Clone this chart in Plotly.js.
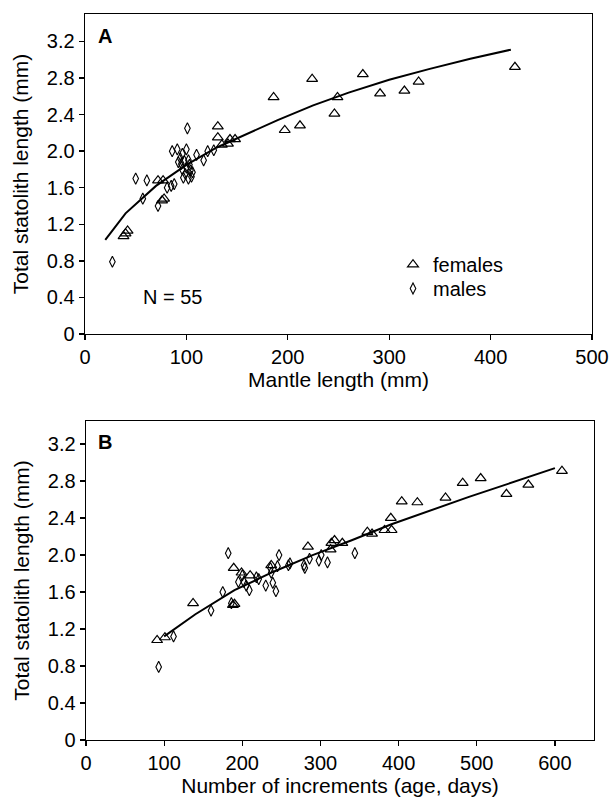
<!DOCTYPE html>
<html>
<head>
<meta charset="utf-8">
<script src="https://cdn.plot.ly/plotly-3.0.1.min.js"></script>
<style>html,body{margin:0;padding:0;background:#fff;}#chart{width:613px;height:797px;}</style>
</head>
<body>
<div id="chart"></div>
<script>
// Panel A: statolith length vs mantle length
const femalesA_ML = [38, 40, 42, 72, 77, 76, 78, 131, 131, 135, 141, 143, 148, 186, 197, 212, 224, 246, 249, 274, 291, 315, 329, 424];
const femalesA_TSL = [1.07, 1.10, 1.13, 1.68, 1.68, 1.46, 1.48, 2.27, 2.15, 2.07, 2.08, 2.13, 2.13, 2.59, 2.23, 2.28, 2.79, 2.41, 2.59, 2.84, 2.63, 2.66, 2.76, 2.92];
const malesA_ML = [27, 50, 57, 61, 72, 81, 85, 88, 86, 91, 101, 100, 96, 92, 95, 98, 102, 110, 117, 121, 127, 96, 100, 104, 106, 99, 97, 102, 105, 94, 103];
const malesA_TSL = [0.79, 1.70, 1.48, 1.68, 1.40, 1.60, 1.62, 1.64, 2.00, 2.02, 2.25, 2.02, 1.97, 1.88, 1.86, 1.89, 1.90, 1.96, 1.90, 2.00, 2.01, 1.80, 1.82, 1.79, 1.77, 1.75, 1.71, 1.70, 1.72, 1.92, 1.85];
const curveA_ML = [20, 40, 70, 100, 130, 160, 190, 225, 260, 300, 340, 380, 420];
const curveA_TSL = [1.03, 1.32, 1.62, 1.85, 2.04, 2.19, 2.34, 2.50, 2.64, 2.78, 2.90, 3.01, 3.11];

// Panel B: statolith length vs number of increments
const femalesB_age = [91, 101, 137, 189, 188, 190, 199, 210, 237, 284, 313, 314, 318, 328, 360, 366, 382, 391, 390, 404, 424, 460, 482, 505, 538, 566, 609];
const femalesB_TSL = [1.08, 1.11, 1.48, 1.86, 1.46, 1.47, 1.81, 1.78, 1.89, 2.09, 2.06, 2.13, 2.16, 2.13, 2.25, 2.23, 2.27, 2.27, 2.40, 2.58, 2.57, 2.62, 2.78, 2.83, 2.66, 2.76, 2.91];
const malesB_age = [93, 112, 160, 175, 182, 186, 195, 202, 205, 209, 218, 221, 230, 237, 239, 243, 245, 247, 259, 261, 279, 280, 286, 298, 301, 309, 344, 200, 236];
const malesB_TSL = [0.79, 1.12, 1.40, 1.60, 2.02, 1.48, 1.71, 1.71, 1.67, 1.62, 1.76, 1.74, 1.67, 1.81, 1.70, 1.61, 1.88, 2.00, 1.89, 1.91, 1.89, 1.86, 1.96, 1.94, 2.00, 1.92, 2.02, 1.78, 1.86];
const curveB_age = [100, 140, 190, 240, 290, 340, 390, 440, 490, 540, 600];
const curveB_TSL = [1.12, 1.36, 1.62, 1.82, 2.00, 2.16, 2.33, 2.48, 2.63, 2.77, 2.94];

// Tick labels
const yTickVals = [0, 0.4, 0.8, 1.2, 1.6, 2.0, 2.4, 2.8, 3.2];
const yTickText = ["0", "0.4", "0.8", "1.2", "1.6", "2.0", "2.4", "2.8", "3.2"];
const xTickValsA = [0, 100, 200, 300, 400, 500];
const xTickValsB = [0, 100, 200, 300, 400, 500, 600];

const FONT = "Liberation Sans, Arial, Helvetica, sans-serif";
const triMarker = {symbol: "triangle-up-open", size: 9.5, color: "#000", line: {width: 1.2, color: "#000"}};
const diaMarker = {symbol: "diamond-tall-open", size: 8, color: "#000", line: {width: 1.1, color: "#000"}};

const traces = [
  {x: curveA_ML, y: curveA_TSL, type: "scatter", mode: "lines", line: {color: "#000", width: 2}, showlegend: false, xaxis: "x", yaxis: "y", hoverinfo: "skip"},
  {x: femalesA_ML, y: femalesA_TSL, type: "scatter", mode: "markers", name: "females", marker: triMarker, legend: "legend", xaxis: "x", yaxis: "y"},
  {x: malesA_ML, y: malesA_TSL, type: "scatter", mode: "markers", name: "males", marker: diaMarker, legend: "legend2", xaxis: "x", yaxis: "y"},
  {x: curveB_age, y: curveB_TSL, type: "scatter", mode: "lines", line: {color: "#000", width: 2}, showlegend: false, xaxis: "x2", yaxis: "y2", hoverinfo: "skip"},
  {x: femalesB_age, y: femalesB_TSL, type: "scatter", mode: "markers", name: "females", marker: triMarker, showlegend: false, xaxis: "x2", yaxis: "y2"},
  {x: malesB_age, y: malesB_TSL, type: "scatter", mode: "markers", name: "males", marker: diaMarker, showlegend: false, xaxis: "x2", yaxis: "y2"}
];

const axBase = {
  showline: true, mirror: true, linecolor: "#000", linewidth: 1.4,
  ticks: "outside", ticklen: 5, tickwidth: 1.3, tickcolor: "#000",
  showgrid: false, zeroline: false, automargin: false,
  tickfont: {family: FONT, size: 20, color: "#000"}
};
const titleFont = {family: FONT, size: 21, color: "#000"};

const W = 613, H = 797;
const legBase = {xanchor: "left", yanchor: "top", bgcolor: "rgba(0,0,0,0)", font: {family: FONT, size: 20, color: "#000"}};
const layout = {
  width: W, height: H,
  margin: {l: 0, r: 0, t: 0, b: 0},
  paper_bgcolor: "#fff", plot_bgcolor: "#fff",
  font: {family: FONT, color: "#000"},
  showlegend: true,
  legend: Object.assign({}, legBase, {x: 393 / W, y: 1 - 245 / H}),
  legend2: Object.assign({}, legBase, {x: 393 / W, y: 1 - 269 / H}),
  xaxis: Object.assign({}, axBase, {domain: [85 / W, 592 / W], range: [0, 500], tickvals: xTickValsA, anchor: "y",
    title: {text: "Mantle length (mm)", font: titleFont, standoff: 2}}),
  yaxis: Object.assign({}, axBase, {domain: [1 - 334 / H, 1 - 14 / H], range: [0, 3.5], tickvals: yTickVals, ticktext: yTickText, anchor: "x",
    title: {text: "Total statolith length (mm)", font: titleFont, standoff: 12}}),
  xaxis2: Object.assign({}, axBase, {domain: [86 / W, 594 / W], range: [0, 650], tickvals: xTickValsB, anchor: "y2",
    title: {text: "Number of increments (age, days)", font: titleFont, standoff: 2}}),
  yaxis2: Object.assign({}, axBase, {domain: [1 - 740 / H, 1 - 421 / H], range: [0, 3.45], tickvals: yTickVals, ticktext: yTickText, anchor: "x2",
    title: {text: "Total statolith length (mm)", font: titleFont, standoff: 12}}),
  annotations: [
    {text: "<b>A</b>", xref: "x", yref: "y", x: 11, y: 3.26, xanchor: "left", yanchor: "middle", showarrow: false, font: {family: FONT, size: 20, color: "#000"}},
    {text: "N = 55", xref: "x", yref: "y", x: 55, y: 0.41, xanchor: "left", yanchor: "middle", showarrow: false, font: {family: FONT, size: 20, color: "#000"}},
    {text: "<b>B</b>", xref: "x2", yref: "y2", x: 13, y: 3.22, xanchor: "left", yanchor: "middle", showarrow: false, font: {family: FONT, size: 20, color: "#000"}}
  ]
};

Plotly.newPlot("chart", traces, layout, {displayModeBar: false, staticPlot: true});
</script>
</body>
</html>
